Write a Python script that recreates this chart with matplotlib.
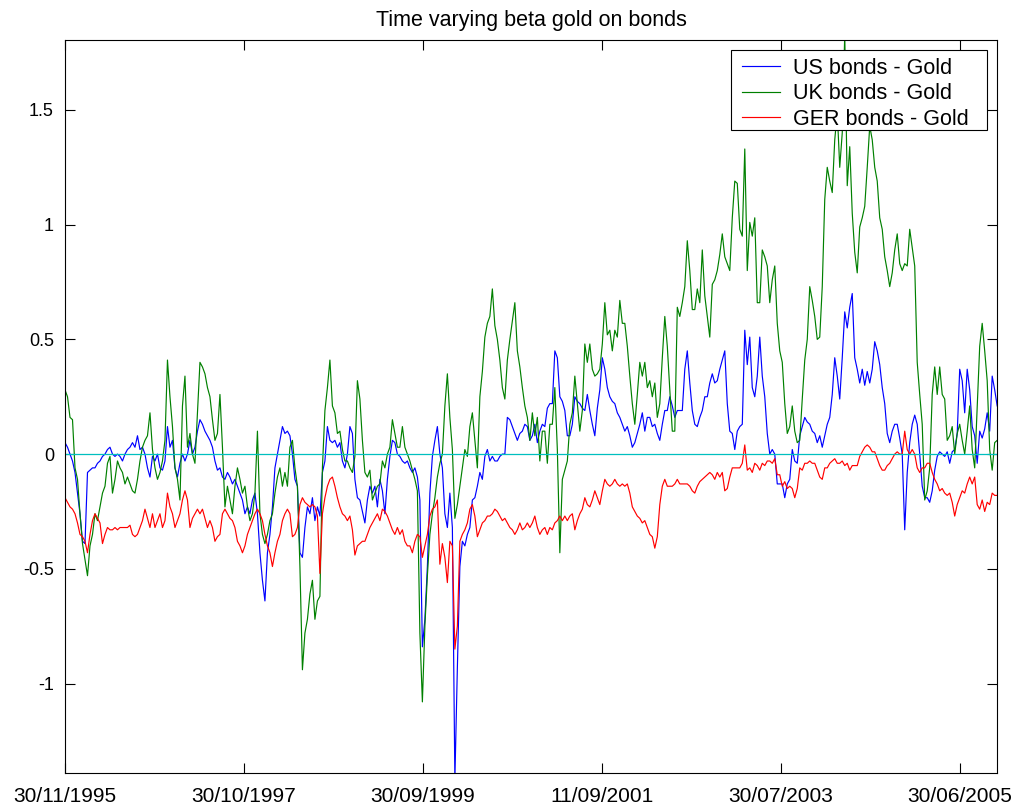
import numpy as np
import matplotlib
matplotlib.use("Agg")
import matplotlib.pyplot as plt
from matplotlib import font_manager
from matplotlib.patches import Rectangle

# Time-varying beta of gold on bond returns, one value roughly every 7 trading days
us_gold = [
    0.05, 0.03, 0.00, -0.03, -0.08, -0.17, -0.26, -0.38, -0.39, -0.08,
    -0.07, -0.06, -0.06, -0.04, -0.03, -0.01, 0.00, 0.02, 0.03, 0.00,
    -0.01, 0.00, -0.01, -0.03, 0.00, 0.02, 0.03, 0.05, 0.03, 0.08,
    0.02, 0.03, 0.00, -0.06, -0.10, -0.01, -0.03, 0.00, -0.06, -0.07,
    -0.03, 0.12, 0.03, 0.06, -0.06, -0.10, -0.04, 0.00, -0.03, 0.00,
    0.06, 0.00, 0.03, 0.10, 0.15, 0.13, 0.10, 0.08, 0.06, 0.03,
    -0.03, -0.07, -0.06, -0.10, -0.11, -0.08, -0.10, -0.13, -0.11, -0.14,
    -0.17, -0.20, -0.26, -0.23, -0.26, -0.20, -0.17, -0.26, -0.43, -0.55,
    -0.64, -0.43, -0.35, -0.23, -0.06, 0.00, 0.06, 0.12, 0.09, 0.10,
    0.08, 0.00, -0.11, -0.14,
    -0.43, -0.45, -0.32, -0.23, -0.26, -0.19, -0.29, -0.23, -0.27, -0.08,
    -0.03, 0.12, 0.06, 0.05, 0.06, 0.03, 0.05, -0.03, -0.06, 0.00,
    0.12, 0.09, -0.11, -0.19, -0.20, -0.25, -0.30, -0.20, -0.14, -0.17,
    -0.14, -0.23, -0.11, -0.16, -0.26, -0.11, -0.01, 0.06, 0.05, 0.00,
    -0.01, -0.03, -0.04, -0.03, -0.06, -0.08, -0.06, -0.10, -0.20, -0.84,
    -0.72, -0.49, -0.17, -0.01, 0.06, 0.12, 0.00, -0.06, -0.26, -0.32,
    -0.17, -0.32, -1.42, -0.93, -0.49, -0.38, -0.40, -0.35, -0.32, -0.20,
    -0.19, -0.14, -0.08, -0.11, -0.01, 0.02, -0.03, -0.01, -0.03, -0.03,
    -0.01, 0.00, 0.00, 0.16, 0.15, 0.12, 0.09, 0.06, 0.09, 0.10,
    0.13, 0.12, 0.06,
    0.08, 0.13, 0.05, 0.10, 0.13, 0.12, 0.20, 0.22, 0.22, 0.45,
    0.42, 0.25, 0.23, 0.19, 0.08, 0.08, 0.13, 0.25, 0.23, 0.22,
    0.20, 0.19, 0.26, 0.19, 0.13, 0.08, 0.20, 0.28, 0.42, 0.37,
    0.29, 0.25, 0.23, 0.22, 0.18, 0.16, 0.13, 0.10, 0.12, 0.08,
    0.03, 0.05, 0.09, 0.13, 0.18, 0.10, 0.16, 0.16, 0.12, 0.13,
    0.09, 0.06, 0.13, 0.19, 0.19, 0.25, 0.21, 0.16, 0.19, 0.19,
    0.19, 0.37, 0.45, 0.31, 0.19, 0.13, 0.12, 0.16, 0.19, 0.25,
    0.25, 0.31, 0.35, 0.31, 0.32, 0.37, 0.41, 0.45, 0.22, 0.10,
    0.09, 0.02, 0.10, 0.12, 0.13, 0.54, 0.39, 0.51, 0.29, 0.25,
    0.34, 0.51, 0.34, 0.25,
    0.09, 0.00, 0.02, 0.00, -0.13, -0.13, -0.13, -0.19, -0.13, -0.11,
    0.02, -0.03, -0.04, 0.08, 0.12, 0.16, 0.14, 0.13, 0.10, 0.09,
    0.05, 0.08, 0.03, 0.08, 0.13, 0.16, 0.26, 0.42, 0.34, 0.24,
    0.42, 0.62, 0.55, 0.64, 0.70, 0.42, 0.37, 0.31, 0.37, 0.30,
    0.36, 0.31, 0.37, 0.49, 0.45, 0.39, 0.29, 0.22, 0.09, 0.05,
    0.10, 0.13, 0.13, 0.07, 0.00, -0.33, -0.08, 0.05, 0.13, 0.17,
    0.13, 0.00, -0.14, -0.19, -0.19, -0.21, -0.16, -0.07, -0.01, 0.01,
    0.00, -0.01, 0.01, -0.04, 0.01, 0.02, 0.09, 0.37, 0.32, 0.18,
    0.37, 0.28, 0.12, 0.08, -0.04, 0.10, 0.07, 0.11, 0.18, 0.10,
    0.34, 0.28, 0.21,
]
uk_gold = [
    0.28, 0.25, 0.16, 0.15, -0.06, -0.11, -0.26, -0.39, -0.46, -0.53,
    -0.40, -0.35, -0.26, -0.29, -0.23, -0.17, -0.14, -0.04, -0.01, -0.17,
    -0.11, -0.03, -0.06, -0.08, -0.13, -0.10, -0.13, -0.16, -0.17, -0.11,
    -0.03, 0.03, 0.06, 0.08, 0.18, 0.02, -0.06, -0.11, -0.08, -0.03,
    0.06, 0.41, 0.25, 0.12, -0.06, -0.11, -0.20, 0.21, 0.34, 0.03,
    0.09, 0.00, -0.04, 0.18, 0.40, 0.38, 0.35, 0.29, 0.25, 0.15,
    0.06, 0.09, 0.26, 0.03, -0.23, -0.14, -0.20, -0.26, -0.14, -0.06,
    -0.11, -0.17, -0.14, -0.23, -0.29, -0.26, -0.17, 0.10, -0.26, -0.35,
    -0.39, -0.35, -0.29, -0.26, -0.17, -0.10, -0.06, -0.14, -0.08, -0.14,
    0.03, 0.06, -0.06, -0.14,
    -0.49, -0.94, -0.78, -0.72, -0.61, -0.55, -0.72, -0.64, -0.62, -0.06,
    0.19, 0.29, 0.41, 0.21, 0.18, 0.09, 0.10, 0.02, -0.03, -0.03,
    -0.06, -0.08, -0.01, 0.32, 0.24, 0.06, -0.08, -0.10, -0.07, -0.20,
    -0.17, -0.14, -0.13, -0.03, -0.06, 0.00, 0.03, 0.15, 0.09, 0.03,
    0.03, 0.12, 0.03, 0.00, -0.03, -0.07, -0.11, -0.16, -0.78, -1.08,
    -0.75, -0.53, -0.35, -0.26, -0.19, -0.10, -0.04, 0.00, 0.21, 0.35,
    0.16, 0.02, -0.28, -0.22, -0.14, -0.06, 0.02, -0.01, 0.12, 0.18,
    0.06, -0.06, 0.25, 0.36, 0.51, 0.57, 0.60, 0.72, 0.56, 0.50,
    0.41, 0.29, 0.24, 0.41, 0.50, 0.58, 0.66, 0.45, 0.38, 0.29,
    0.21, 0.16, 0.06,
    0.18, 0.08, 0.16, -0.03, 0.10, 0.10, -0.04, 0.13, 0.13, 0.29,
    0.02, -0.43, -0.11, -0.07, -0.03, 0.13, 0.18, 0.34, 0.22, 0.10,
    0.19, 0.48, 0.40, 0.48, 0.37, 0.34, 0.35, 0.37, 0.48, 0.66,
    0.52, 0.54, 0.45, 0.54, 0.51, 0.67, 0.57, 0.57, 0.47, 0.34,
    0.22, 0.13, 0.26, 0.40, 0.34, 0.40, 0.29, 0.32, 0.25, 0.31,
    0.16, 0.22, 0.42, 0.60, 0.47, 0.28, 0.10, 0.10, 0.64, 0.60,
    0.66, 0.73, 0.93, 0.80, 0.63, 0.63, 0.72, 0.66, 0.89, 0.69,
    0.60, 0.51, 0.74, 0.76, 0.80, 0.87, 0.96, 0.86, 0.83, 0.80,
    1.03, 1.19, 1.18, 0.98, 0.95, 1.33, 0.80, 1.01, 0.95, 1.03,
    0.66, 0.66, 0.89, 0.86,
    0.82, 0.66, 0.76, 0.82, 0.57, 0.45, 0.40, 0.22, 0.09, 0.12,
    0.21, 0.10, 0.05, 0.06, 0.24, 0.41, 0.50, 0.73, 0.67, 0.60,
    0.50, 0.51, 0.73, 1.11, 1.25, 1.19, 1.14, 1.37, 1.49, 1.25,
    1.40, 1.83, 1.17, 1.34, 1.05, 0.88, 0.79, 0.99, 1.03, 1.08,
    1.25, 1.43, 1.37, 1.25, 1.19, 1.03, 0.98, 0.86, 0.80, 0.73,
    0.79, 0.89, 0.96, 0.83, 0.80, 0.83, 0.82, 0.98, 0.90, 0.82,
    0.40, 0.26, 0.13, -0.20, -0.16, -0.06, 0.26, 0.38, 0.26, 0.38,
    0.26, 0.24, 0.06, 0.08, 0.12, 0.00, 0.09, 0.13, 0.06, 0.00,
    0.10, 0.21, 0.02, -0.06, 0.21, 0.47, 0.57, 0.45, 0.32, 0.02,
    -0.07, 0.05, 0.06,
]
ger_gold = [
    -0.19, -0.21, -0.23, -0.24, -0.26, -0.30, -0.35, -0.36, -0.38, -0.43,
    -0.35, -0.29, -0.26, -0.28, -0.30, -0.39, -0.35, -0.32, -0.33, -0.33,
    -0.32, -0.33, -0.32, -0.32, -0.32, -0.32, -0.31, -0.35, -0.36, -0.35,
    -0.32, -0.29, -0.24, -0.28, -0.32, -0.26, -0.32, -0.29, -0.26, -0.32,
    -0.29, -0.17, -0.23, -0.26, -0.32, -0.29, -0.26, -0.20, -0.16, -0.20,
    -0.32, -0.28, -0.26, -0.24, -0.26, -0.24, -0.28, -0.32, -0.29, -0.32,
    -0.38, -0.36, -0.35, -0.26, -0.24, -0.26, -0.28, -0.29, -0.32, -0.38,
    -0.40, -0.43, -0.40, -0.35, -0.32, -0.29, -0.26, -0.24, -0.26, -0.29,
    -0.35, -0.40, -0.43, -0.49, -0.43, -0.38, -0.35, -0.29, -0.26, -0.24,
    -0.26, -0.36, -0.35, -0.32,
    -0.22, -0.19, -0.21, -0.22, -0.23, -0.22, -0.23, -0.27, -0.52, -0.26,
    -0.19, -0.14, -0.11, -0.10, -0.14, -0.19, -0.23, -0.26, -0.27, -0.29,
    -0.27, -0.33, -0.44, -0.40, -0.39, -0.38, -0.38, -0.35, -0.32, -0.30,
    -0.28, -0.26, -0.29, -0.24, -0.25, -0.27, -0.30, -0.33, -0.35, -0.32,
    -0.35, -0.33, -0.38, -0.40, -0.40, -0.43, -0.38, -0.35, -0.36, -0.45,
    -0.40, -0.35, -0.27, -0.24, -0.23, -0.20, -0.48, -0.39, -0.45, -0.56,
    -0.38, -0.40, -0.85, -0.75, -0.38, -0.35, -0.33, -0.30, -0.24, -0.22,
    -0.27, -0.36, -0.33, -0.30, -0.29, -0.27, -0.27, -0.26, -0.24, -0.25,
    -0.27, -0.29, -0.28, -0.30, -0.32, -0.33, -0.35, -0.33, -0.30, -0.33,
    -0.32, -0.30, -0.32,
    -0.30, -0.27, -0.32, -0.35, -0.33, -0.32, -0.35, -0.32, -0.33, -0.30,
    -0.29, -0.27, -0.29, -0.27, -0.29, -0.27, -0.26, -0.33, -0.29, -0.26,
    -0.24, -0.19, -0.22, -0.23, -0.20, -0.16, -0.19, -0.22, -0.16, -0.11,
    -0.13, -0.14, -0.13, -0.11, -0.13, -0.14, -0.13, -0.14, -0.13, -0.17,
    -0.23, -0.25, -0.27, -0.28, -0.30, -0.29, -0.32, -0.35, -0.36, -0.41,
    -0.36, -0.22, -0.14, -0.11, -0.14, -0.14, -0.14, -0.13, -0.11, -0.13,
    -0.13, -0.13, -0.13, -0.14, -0.16, -0.17, -0.14, -0.12, -0.11, -0.10,
    -0.09, -0.08, -0.09, -0.11, -0.08, -0.10, -0.08, -0.16, -0.15, -0.10,
    -0.06, -0.06, -0.06, -0.06, -0.04, 0.04, -0.07, -0.06, -0.08, -0.04,
    -0.05, -0.07, -0.04, -0.05,
    -0.03, -0.03, -0.04, -0.02, -0.09, -0.09, -0.14, -0.12, -0.15, -0.14,
    -0.15, -0.19, -0.15, -0.06, -0.07, -0.04, -0.04, -0.03, -0.04, -0.04,
    -0.07, -0.10, -0.11, -0.06, -0.06, -0.04, -0.03, -0.02, -0.04, -0.04,
    -0.03, -0.05, -0.04, -0.07, -0.05, -0.05, -0.05, -0.01, 0.01, 0.03,
    0.04, 0.03, 0.01, 0.01, -0.02, -0.05, -0.07, -0.07, -0.05, -0.04,
    -0.02, 0.00, 0.01, 0.00, 0.00, 0.10, 0.02, 0.00, 0.02, 0.00,
    -0.06, -0.08, -0.06, -0.06, -0.04, -0.04, -0.08, -0.11, -0.13, -0.16,
    -0.15, -0.17, -0.18, -0.17, -0.21, -0.27, -0.22, -0.19, -0.16, -0.17,
    -0.13, -0.10, -0.13, -0.10, -0.22, -0.24, -0.20, -0.25, -0.21, -0.22,
    -0.17, -0.18, -0.18,
]

series_labels = ["US bonds - Gold", "UK bonds - Gold", "GER bonds - Gold"]
date_labels = ["30/11/1995", "30/10/1997", "30/09/1999", "11/09/2001", "30/07/2003", "30/06/2005"]
date_ticks = [0, 500, 1000, 1500, 2000, 2500]
n_obs = 2603
obs_step = 6.98  # trading days between stored values

installed = {f.name for f in font_manager.fontManager.ttflist}
base_font = "Liberation Sans" if "Liberation Sans" in installed else "DejaVu Sans"
narrow_font = "Liberation Sans Narrow" if "Liberation Sans Narrow" in installed else base_font
plt.rcParams["font.family"] = [base_font, "DejaVu Sans"]

W, H = 1015, 807
fig = plt.figure(figsize=(W / 100, H / 100), dpi=100)
ax = fig.add_axes([65 / W, 1 - 773 / H, 932 / W, 733 / H])

for values, colour, label in [(us_gold, (0, 0, 1), series_labels[0]),
                              (uk_gold, (0, 0.5, 0), series_labels[1]),
                              (ger_gold, (1, 0, 0), series_labels[2])]:
    obs = np.arange(len(values)) * obs_step
    ax.plot(obs, values, color=colour, lw=0.85, label=label)
ax.axhline(0, color=(0, 0.75, 0.75), lw=0.9)

ax.set_xlim(0, n_obs)
ax.set_ylim(-1.39, 1.805)
ax.set_yticks([-1, -0.5, 0, 0.5, 1, 1.5])
ax.set_yticklabels(["-1", "-0.5", "0", "0.5", "1", "1.5"], fontsize=13)
ax.set_xticks(date_ticks)
ax.set_xticklabels(date_labels, fontsize=15, family=[narrow_font, "DejaVu Sans"])
ax.tick_params(direction="in", top=True, right=True, length=7, width=0.8)
ax.tick_params(axis="x", pad=10)
ax.tick_params(axis="y", pad=8)
for sp in ax.spines.values():
    sp.set_linewidth(0.8)

ax.set_title("Time varying beta gold on bonds", fontsize=15.5, pad=10)

# legend box: white panel with a black border, wider than its entries
ax.add_patch(Rectangle((731 / W, 1 - 130 / H), 256 / W, 80 / H, transform=fig.transFigure,
                       facecolor="white", edgecolor="black", lw=0.8, zorder=4, clip_on=False))
leg = ax.legend(loc="upper left", bbox_to_anchor=(742 / W, 1 - 58 / H),
                bbox_transform=fig.transFigure, fontsize=15.5, frameon=False,
                handlelength=1.77, handletextpad=0.6, labelspacing=0.2,
                borderpad=0.0, borderaxespad=0.0)
leg.set_zorder(5)
for line in leg.get_lines():
    line.set_linewidth(0.85)

fig.savefig("out.png", dpi=100)
